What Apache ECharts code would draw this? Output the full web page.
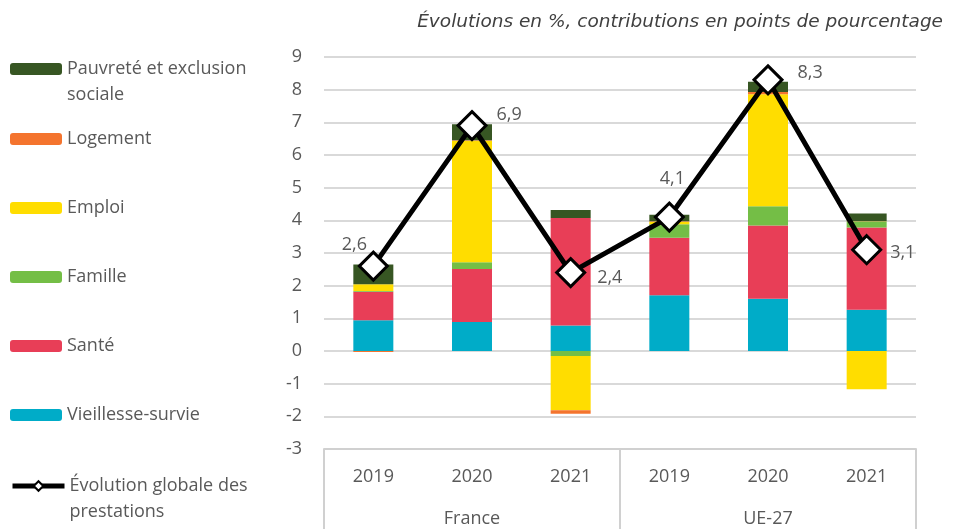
<!DOCTYPE html>
<html>
<head>
<meta charset="utf-8">
<script src="https://cdn.jsdelivr.net/npm/echarts@6/dist/echarts.min.js"></script>
<style>
  html, body { margin: 0; padding: 0; background: #fff; }
  #chart { width: 956px; height: 529px; }
</style>
</head>
<body>
<div id="chart"></div>
<script>
// Data
var years = ['2019', '2020', '2021', '2019', '2020', '2021'];
var groups = ['France', 'UE-27'];
var yTicks = [-3, 9, 1];

var vieillesse = [0.94, 0.89, 0.78, 1.71, 1.60, 1.26];
var sante      = [0.87, 1.62, 3.29, 1.76, 2.24, 2.52];
var famille    = [0.03, 0.21, -0.15, 0.41, 0.59, 0.19];
var emploi     = [0.20, 3.72, -1.66, 0.08, 3.43, -1.17];
var logement   = [-0.03, 0.01, -0.11, 0.01, 0.07, 0.01];
var pauvrete   = [0.61, 0.49, 0.25, 0.20, 0.31, 0.23];
var globale    = [2.6, 6.9, 2.4, 4.1, 8.3, 3.1];

var FONT = '"Open Sans", sans-serif';
var TXT = '#595959';

var chart = echarts.init(document.getElementById('chart'));

function barSerie(name, data, color) {
  return {
    name: name,
    type: 'bar',
    stack: 'total',
    barWidth: 40,
    itemStyle: { color: color },
    data: data
  };
}

// one legend block per item, to get the excel-like spacing
function legendItem(name, top, twoLines) {
  var lg = {
    data: [name],
    left: 10,
    top: top,
    padding: 0,
    itemWidth: 52,
    itemHeight: 12,
    itemGap: 6,
    selectedMode: false,
    formatter: function (n) {
      if (!twoLines) return n;
      // leading blank line keeps the first line level with the icon
      return '\n' + n.replace('exclusion ', 'exclusion\n').replace('des ', 'des\n');
    },
    textStyle: { fontFamily: FONT, fontSize: 18, color: TXT, lineHeight: 26 }
  };
  if (name.indexOf('Évolution') === 0) {
    lg.itemGap = 3;
    lg.lineStyle = { color: '#000', width: 5 };
    lg.itemStyle = { color: '#fff', borderColor: '#000', borderWidth: 2 };
  }
  return lg;
}

var labelPos = [
  { position: 'top', offset: [-19, 8] },
  { position: 'right', offset: [4, -11] },
  { position: 'right', offset: [6, 5] },
  { position: 'top', offset: [3, -9] },
  { position: 'right', offset: [9, -7] },
  { position: 'right', offset: [3, 3] }
];

var options = {
  animation: false,
  title: {
    text: 'Évolutions en %, contributions en points de pourcentage',
    right: 8, top: 8,
    textStyle: { fontFamily: '"DejaVu Sans", sans-serif', fontSize: 18.5, fontStyle: 'italic', fontWeight: 'normal', color: '#404040' }
  },
  legend: [
    legendItem('Pauvreté et exclusion sociale', 30, true),
    legendItem('Logement', 126, false),
    legendItem('Emploi', 195, false),
    legendItem('Famille', 264, false),
    legendItem('Santé', 333, false),
    legendItem('Vieillesse-survie', 402, false),
    legendItem('Évolution globale des prestations', 447, true)
  ],
  grid: { left: 324, right: 40, top: 57, bottom: 80, containLabel: false },
  xAxis: [{
    type: 'category',
    data: years,
    position: 'bottom',
    axisLine: { show: false },
    axisTick: { show: false },
    axisLabel: { margin: 19, fontFamily: FONT, fontSize: 18, color: TXT }
  }, {
    type: 'category',
    data: groups,
    position: 'bottom',
    axisLine: { show: true, lineStyle: { color: '#d0d0d0', width: 2 } },
    axisTick: { show: true, length: 82, lineStyle: { color: '#d0d0d0', width: 2 } },
    axisLabel: { margin: 61, fontFamily: FONT, fontSize: 18, color: TXT }
  }],
  yAxis: {
    type: 'value',
    min: yTicks[0], max: yTicks[1], interval: yTicks[2],
    axisLine: { show: false },
    axisTick: { show: false },
    axisLabel: { margin: 22, fontFamily: FONT, fontSize: 18, color: TXT },
    splitLine: { lineStyle: { color: '#d9d9d9', width: 2 } }
  },
  series: [
    barSerie('Vieillesse-survie', vieillesse, '#00acc8'),
    barSerie('Santé', sante, '#e83e57'),
    barSerie('Famille', famille, '#74be46'),
    barSerie('Emploi', emploi, '#ffdd00'),
    barSerie('Logement', logement, '#f4742e'),
    barSerie('Pauvreté et exclusion sociale', pauvrete, '#375623'),
    {
      name: 'Évolution globale des prestations',
      type: 'line',
      symbol: 'diamond',
      symbolSize: 28,
      lineStyle: { color: '#000', width: 5 },
      itemStyle: { color: '#fff', borderColor: '#000', borderWidth: 3 },
      label: {
        show: true, fontFamily: FONT, fontSize: 18, color: TXT, distance: 5,
        formatter: function (p) { return String(p.value).replace('.', ','); }
      },
      data: globale.map(function (v, i) {
        return { value: v, label: labelPos[i] };
      }),
      z: 5
    }
  ]
};

chart.setOption(options);
</script>
</body>
</html>
